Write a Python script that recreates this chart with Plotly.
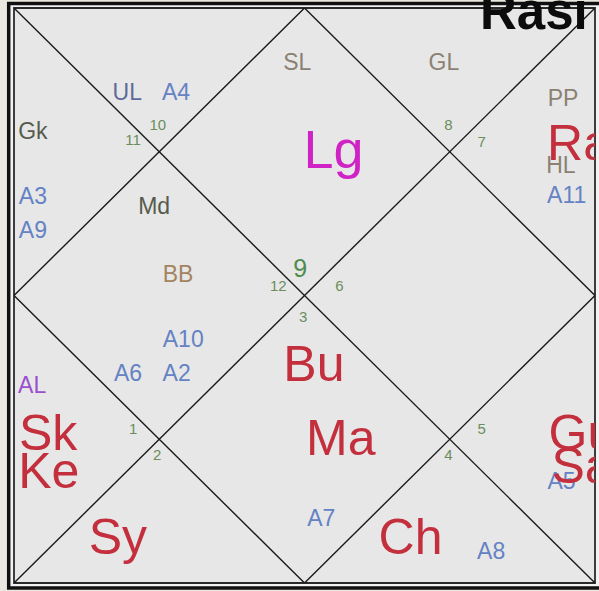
import plotly.graph_objects as go

# ---- data ----------------------------------------------------------------
chart_title = "Rasi"

# sign numbers written next to the centre of each house
sign_numbers = ["9", "10", "11", "12", "1", "2", "3", "4", "5", "6", "7", "8"]
lagna_sign = "9"

# grahas (Lagna + planets)
lagna = ["Lg"]
planets = ["Sk", "Ke", "Sy", "Bu", "Ma", "Ch", "Ra", "Gu", "Sa"]

# upagrahas and special lagnas
upagrahas = ["Gk", "Md"]
special_lagnas = ["SL", "GL", "PP", "HL", "BB", "UL", "AL"]

# arudha padas
arudhas = ["A2", "A3", "A4", "A5", "A6", "A7", "A8", "A9", "A10", "A11"]

# ---- layout (chart units: square 0..4, y downwards) -----------------------
POS = {
    "9": (1.97, 1.83), "10": (0.99, 0.82), "11": (0.82, 0.93), "12": (1.82, 1.94),
    "1": (0.82, 2.94), "2": (0.985, 3.12), "3": (1.99, 2.16), "4": (2.99, 3.12),
    "5": (3.22, 2.94), "6": (2.24, 1.94), "7": (3.22, 0.94), "8": (2.99, 0.82),
    "Lg": (2.20, 1.02), "Sk": (0.235, 2.99), "Ke": (0.24, 3.25), "Sy": (0.715, 3.71),
    "Bu": (2.065, 2.51), "Ma": (2.25, 3.02), "Ch": (2.73, 3.71),
    "Ra": (3.67, 0.97), "Gu": (3.68, 2.99), "Sa": (3.70, 3.22),
    "Gk": (0.13, 0.87), "Md": (0.965, 1.39),
    "SL": (1.95, 0.39), "GL": (2.96, 0.39), "PP": (3.78, 0.64), "HL": (3.765, 1.11),
    "BB": (1.13, 1.865), "UL": (0.78, 0.60), "AL": (0.125, 2.64),
    "A2": (1.12, 2.555), "A3": (0.13, 1.325), "A4": (1.115, 0.60), "A5": (3.77, 3.305),
    "A6": (0.785, 2.555), "A7": (2.115, 3.56), "A8": (3.285, 3.79), "A9": (0.13, 1.56),
    "A10": (1.165, 2.32), "A11": (3.805, 1.315),
}
LEFT_ALIGNED = {"Ra", "Gu", "Sa"}

FONT = "Liberation Sans, Arial"

LAGNA_COLORS = {"SL": "#8b8172", "GL": "#8b8172", "PP": "#8b8172", "HL": "#8b8172",
                "BB": "#a3845f", "UL": "#5d6b9c", "AL": "#9a4fd0"}

labels, xs, ys, sizes, colors, tpos = [], [], [], [], [], []


def add(items, size, color):
    for t in items:
        u, v = POS[t]
        labels.append(t)
        xs.append(u)
        ys.append(v)
        sizes.append(size(t) if callable(size) else size)
        colors.append(color(t) if callable(color) else color)
        tpos.append("middle right" if t in LEFT_ALIGNED else "middle center")


add(sign_numbers, lambda t: 25 if t == lagna_sign else 15,
    lambda t: "#4f8a4f" if t == lagna_sign else "#6b8d5d")
add(upagrahas, 23, "#565b4d")
add(special_lagnas, 23, lambda t: LAGNA_COLORS[t])
add(arudhas, 23, "#6482c4")
add(lagna, 54, "#d023c6")
add(planets, 50, "#c32f3d")

fig = go.Figure()

# chart lines: two diagonals and the inner diamond
lx = [0, 4, None, 4, 0, None, 2, 4, 2, 0, 2]
ly = [0, 4, None, 0, 4, None, 0, 2, 4, 2, 0]
fig.add_trace(go.Scatter(x=lx, y=ly, mode="lines", hoverinfo="skip",
                         line=dict(color="#1a1a1a", width=1.4), showlegend=False))

fig.add_trace(go.Scatter(x=xs, y=ys, text=labels, mode="text", textposition=tpos,
                         textfont=dict(size=sizes, color=colors, family=FONT),
                         cliponaxis=True, hoverinfo="skip", showlegend=False))

W, H = 599, 591
L, R, T, B = 14, 4, 8, 8
pw, ph = W - L - R, H - T - B


def px(x):
    return (x - L) / pw


def py(y):
    return (H - B - y) / ph


# double frame
fig.add_shape(type="rect", xref="paper", yref="paper", layer="below",
              x0=px(8.7), x1=px(640), y0=py(588), y1=py(3.5),
              fillcolor="#f2f2f2", line=dict(color="#111111", width=3.5))
fig.add_shape(type="rect", xref="paper", yref="paper", layer="below",
              x0=0, x1=1, y0=0, y1=1,
              fillcolor="#e7e7e7", line=dict(color="#2a2a2a", width=1.8))

fig.add_annotation(text="<b>" + chart_title + "</b>", xref="paper", yref="paper",
                   x=px(478), y=py(42), xanchor="left", yanchor="bottom",
                   showarrow=False,
                   font=dict(family=FONT, size=51, color="#0c0c0c"))

fig.update_xaxes(range=[0, 4], visible=False, fixedrange=True)
fig.update_yaxes(range=[4, 0], visible=False, fixedrange=True)
fig.update_layout(width=W, height=H, margin=dict(l=L, r=R, t=T, b=B),
                  paper_bgcolor="#ebe8df", plot_bgcolor="rgba(0,0,0,0)")

fig.write_html("out.html", config={"displayModeBar": False},
               post_script="document.body.style.margin='0';"
                           "document.body.style.overflow='hidden';")
